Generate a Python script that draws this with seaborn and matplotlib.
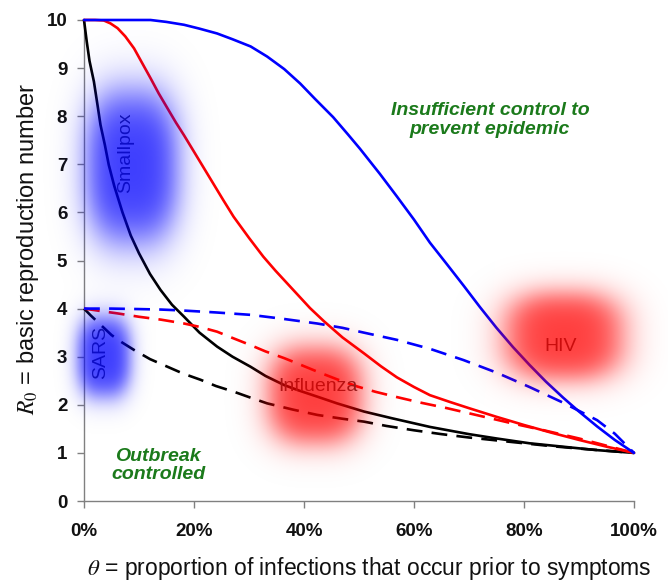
import numpy as np
import pandas as pd
import matplotlib
matplotlib.use("Agg")
import matplotlib.pyplot as plt
import seaborn as sns

# ---- data ----
black_solid_theta = [0, 0.005, 0.01, 0.018, 0.025, 0.03, 0.038, 0.045, 0.055, 0.07, 0.085, 0.1, 0.12, 0.139,
                     0.16, 0.182, 0.21, 0.242, 0.27, 0.303, 0.33, 0.364, 0.39, 0.424, 0.46, 0.509, 0.56,
                     0.629, 0.7, 0.75, 0.81, 0.87, 0.93, 1.0]
black_solid_r0 = [10, 9.55, 9.15, 8.72, 8.2, 7.82, 7.4, 6.99, 6.55, 6.0, 5.52, 5.15, 4.72, 4.39,
                  4.08, 3.83, 3.5, 3.21, 3.0, 2.79, 2.6, 2.41, 2.3, 2.17, 2.03, 1.86, 1.72,
                  1.54, 1.39, 1.3, 1.2, 1.13, 1.06, 1.0]

black_dash_theta = [0, 0.012, 0.024, 0.037, 0.05, 0.07, 0.091, 0.12, 0.152, 0.18, 0.212, 0.24, 0.273, 0.3,
                    0.333, 0.38, 0.424, 0.47, 0.509, 0.55, 0.6, 0.65, 0.7, 0.75, 0.8, 0.85, 0.9, 0.95, 1.0]
black_dash_r0 = [4, 3.86, 3.73, 3.59, 3.45, 3.29, 3.14, 2.95, 2.79, 2.65, 2.52, 2.39, 2.27, 2.16,
                 2.03, 1.9, 1.79, 1.71, 1.65, 1.56, 1.47, 1.39, 1.32, 1.26, 1.2, 1.14, 1.09, 1.045, 1.0]

red_solid_theta = [0, 0.02, 0.036, 0.048, 0.061, 0.075, 0.091, 0.105, 0.121, 0.136, 0.152, 0.167, 0.182,
                   0.199, 0.217, 0.235, 0.253, 0.272, 0.3, 0.326, 0.348, 0.369, 0.39, 0.411, 0.436, 0.47,
                   0.509, 0.54, 0.569, 0.6, 0.629, 0.665, 0.7, 0.75, 0.8, 0.85, 0.9, 0.95, 1.0]
red_solid_r0 = [10, 10, 9.99, 9.93, 9.83, 9.66, 9.41, 9.12, 8.79, 8.47, 8.16, 7.87, 7.6,
                7.28, 6.94, 6.6, 6.26, 5.91, 5.47, 5.08, 4.79, 4.53, 4.27, 4.01, 3.74, 3.4,
                3.07, 2.8, 2.57, 2.37, 2.2, 2.06, 1.93, 1.75, 1.58, 1.42, 1.27, 1.13, 1.0]

red_dash_theta = [0, 0.03, 0.061, 0.1, 0.14, 0.182, 0.21, 0.242, 0.27, 0.303, 0.33, 0.364, 0.39, 0.424,
                  0.46, 0.497, 0.53, 0.569, 0.61, 0.66, 0.72, 0.78, 0.84, 0.9, 0.95, 1.0]
red_dash_r0 = [4, 3.95, 3.9, 3.83, 3.77, 3.69, 3.62, 3.52, 3.39, 3.24, 3.11, 2.97, 2.85, 2.69,
               2.53, 2.38, 2.27, 2.16, 2.05, 1.93, 1.77, 1.61, 1.46, 1.3, 1.15, 1.0]

blue_solid_theta = [0, 0.06, 0.121, 0.15, 0.182, 0.21, 0.242, 0.27, 0.303, 0.333, 0.364, 0.393, 0.42,
                    0.453, 0.48, 0.502, 0.52, 0.538, 0.569, 0.6, 0.629, 0.66, 0.69, 0.72, 0.75, 0.78,
                    0.81, 0.84, 0.871, 0.9, 0.933, 0.965, 1.0]
blue_solid_r0 = [10, 10, 10, 9.96, 9.9, 9.82, 9.72, 9.6, 9.45, 9.24, 8.98, 8.68, 8.36,
                 7.98, 7.62, 7.32, 7.06, 6.8, 6.33, 5.85, 5.37, 4.92, 4.48, 4.03, 3.6, 3.2,
                 2.83, 2.48, 2.15, 1.86, 1.55, 1.27, 1.0]

blue_dash_theta = [0, 0.05, 0.1, 0.14, 0.18, 0.24, 0.303, 0.36, 0.424, 0.47, 0.509, 0.569, 0.63, 0.69,
                   0.75, 0.81, 0.87, 0.933, 0.965, 1.0]
blue_dash_r0 = [4, 4.0, 3.99, 3.98, 3.96, 3.92, 3.87, 3.79, 3.69, 3.6, 3.5, 3.35, 3.16, 2.93,
                2.67, 2.37, 2.05, 1.68, 1.4, 1.0]

diseases = ["Smallpox", "SARS", "Influenza", "HIV"]
disease_theta = [0.0755, 0.030, 0.4255, 0.867]
disease_r0 = [7.23, 3.09, 2.38, 3.21]
disease_rotation = [90, 90, 0, 0]

blob_theta = [0.087, 0.036, 0.42, 0.873]
blob_r0 = [6.95, 3.0, 2.2, 3.43]
blob_halfw = [0.09, 0.052, 0.092, 0.115]
blob_halfh = [1.7, 0.9, 1.08, 0.98]
blob_colors = ["blue", "blue", "red", "red"]

x_ticks = [0, 0.2, 0.4, 0.6, 0.8, 1.0]
x_ticklabels = ["0%", "20%", "40%", "60%", "80%", "100%"]
y_ticks = list(range(0, 11))

# ---- style ----
sns.set_style("ticks")
plt.rcParams["font.family"] = ["Liberation Sans", "DejaVu Sans"]
plt.rcParams["mathtext.fontset"] = "stix"

fig = plt.figure(figsize=(6.68, 5.82), dpi=100)
ax = fig.add_axes([84 / 668, 81 / 582, 550 / 668, 481 / 582])

dash = (0, (6, 3.5))
series = [
    (black_solid_theta, black_solid_r0, "black", "-"),
    (black_dash_theta, black_dash_r0, "black", dash),
    (red_solid_theta, red_solid_r0, "#ff0000", "-"),
    (red_dash_theta, red_dash_r0, "#ff0000", dash),
    (blue_solid_theta, blue_solid_r0, "#0000ff", "-"),
    (blue_dash_theta, blue_dash_r0, "#0000ff", dash),
]
for th, r, col, ls in series:
    df = pd.DataFrame({"theta": th, "R0": r})
    sns.lineplot(data=df, x="theta", y="R0", ax=ax, color=col, linestyle=ls,
                 linewidth=1.9, sort=False, clip_on=False, zorder=3, estimator=None,
                 solid_joinstyle="round", solid_capstyle="round")

# disease labels (below blobs)
for name, th, r, rot in zip(diseases, disease_theta, disease_r0, disease_rotation):
    ax.text(th, r, name, rotation=rot, ha="center", va="center", fontsize=14,
            color="#333333", zorder=4)

# soft blobs
ext = [-0.12, 1.12, -0.6, 10.6]
nx, ny = 800, 800
gx = np.linspace(ext[0], ext[1], nx)
gy = np.linspace(ext[3], ext[2], ny)
GX, GY = np.meshgrid(gx, gy)
rgba = np.zeros((ny, nx, 4))
cmap = {"blue": (0.0, 0.0, 1.0), "red": (1.0, 0.0, 0.0)}
for bx, by, hw, hh, c in zip(blob_theta, blob_r0, blob_halfw, blob_halfh, blob_colors):
    p = 2.6
    rr = (np.abs((GX - bx) / hw) ** p + np.abs((GY - by) / hh) ** p) ** (1 / p)
    a = 0.76 * 0.5 * (1 - np.tanh((rr - 0.9) / 0.34))
    a_old = rgba[..., 3]
    a_new = a + a_old * (1 - a)
    col = np.array(cmap[c])
    with np.errstate(invalid="ignore", divide="ignore"):
        for k in range(3):
            rgba[..., k] = np.where(a_new > 0,
                                    (col[k] * a + rgba[..., k] * a_old * (1 - a)) / a_new, 0)
    rgba[..., 3] = a_new
im = ax.imshow(rgba, extent=ext, aspect="auto", zorder=5, interpolation="bilinear")
im.set_clip_on(False)

# region annotations
ax.text(0.738, 7.92, "Insufficient control to\nprevent epidemic", ha="center", va="center",
        fontsize=14, fontweight="bold", fontstyle="italic", color="#1b7a1b",
        linespacing=1.1, zorder=6)
ax.text(0.135, 0.74, "Outbreak\ncontrolled", ha="center", va="center",
        fontsize=14, fontweight="bold", fontstyle="italic", color="#1b7a1b",
        linespacing=1.1, zorder=6)

ax.set_xlim(0, 1)
ax.set_ylim(0, 10)
ax.set_xticks(x_ticks)
ax.set_xticklabels(x_ticklabels)
ax.set_yticks(y_ticks)
for lab in ax.get_xticklabels() + ax.get_yticklabels():
    lab.set_fontweight("bold")
    lab.set_fontsize(13.5)
    lab.set_color("#111111")
ax.tick_params(axis="x", length=5, width=1, color="#808080", pad=11)
ax.tick_params(axis="y", length=5, width=1, color="#808080", pad=7)
sns.despine(ax=ax)
for s in ["left", "bottom"]:
    ax.spines[s].set_color("#808080")
    ax.spines[s].set_linewidth(1)

ax.set_ylabel(r"$\mathit{R_0}$ = basic reproduction number", fontsize=17, color="#111111")
ax.set_xlabel(r"$\theta$ = proportion of infections that occur prior to symptoms", fontsize=16.5,
              color="#111111")
ax.yaxis.set_label_coords(-0.078, 0.525)
ax.xaxis.set_label_coords(0.518, -0.113)
ax.xaxis.label.set_va("top")
ax.set_facecolor("white")
fig.patch.set_facecolor("white")

fig.savefig("out.png", dpi=100, facecolor="white")
